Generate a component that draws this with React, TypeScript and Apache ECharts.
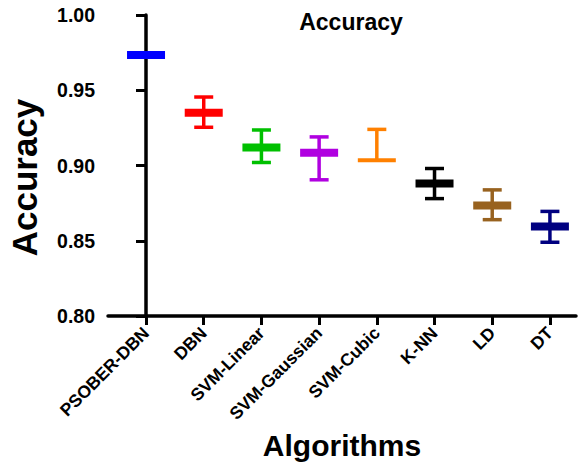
import React, { useEffect, useRef } from "react";
import * as echarts from "echarts";

const categories = ["PSOBER-DBN", "DBN", "SVM-Linear", "SVM-Gaussian", "SVM-Cubic", "K-NN", "LD", "DT"];
const means = [0.9734, 0.935, 0.912, 0.9085, 0.9035, 0.888, 0.8735, 0.8595];
const lows = [0.9734, 0.9254, 0.902, 0.8905, 0.9035, 0.878, 0.864, 0.849];
const highs = [0.9734, 0.9455, 0.9236, 0.919, 0.924, 0.898, 0.8838, 0.8695];
const colors = ["#0000ff", "#ff0000", "#00c000", "#b000e0", "#ff8000", "#000000", "#98621f", "#000080"];
const meanThickness = [8, 8, 8, 8, 4, 8, 8, 8];
const yTicks = { min: 0.8, max: 1.0, interval: 0.05 };

export default function App() {
  const ref = useRef<HTMLDivElement>(null);
  useEffect(() => {
    if (!ref.current) return;
    const chart = echarts.init(ref.current, null, { renderer: "svg" });
    const font = "'Liberation Sans', Arial, sans-serif";
    const idx = categories.map((_, i) => i);
    chart.setOption({
      animation: false,
      backgroundColor: "#ffffff",
      title: {
        text: "Accuracy",
        left: 346,
        textAlign: "center",
        top: 5,
        textStyle: { fontFamily: font, fontWeight: "bold", fontSize: 23, color: "#000" },
      },
      grid: { left: 108, right: 2, top: 15, bottom: 146, containLabel: false, outerBoundsMode: "none" },
      xAxis: {
        type: "value",
        min: -0.659,
        max: 7.452,
        name: "Algorithms",
        nameLocation: "middle",
        nameGap: 98,
        nameTextStyle: { fontFamily: font, fontWeight: "bold", fontSize: 30, color: "#000" },
        splitLine: { show: false },
        axisLine: { show: true, lineStyle: { color: "#000", width: 3.5 } },
        axisTick: { show: true, length: 9, customValues: idx, lineStyle: { color: "#000", width: 3 } },
        axisLabel: {
          customValues: idx,
          rotate: 45,
          margin: 14,
          fontFamily: font,
          fontWeight: "bold",
          fontSize: 17.5,
          color: "#000",
          formatter: (v: number) => categories[Math.round(v)] ?? "",
        },
      },
      yAxis: {
        type: "value",
        min: yTicks.min,
        max: yTicks.max,
        interval: yTicks.interval,
        name: "Accuracy",
        nameLocation: "middle",
        nameGap: 66,
        nameTextStyle: {
          fontFamily: font,
          fontWeight: "bold",
          fontSize: 35,
          color: "#000",
          padding: [0, 24, 0, 0],
        },
        splitLine: { show: false },
        axisLine: { show: true, lineStyle: { color: "#000", width: 3.5 } },
        axisTick: { show: true, length: 10, lineStyle: { color: "#000", width: 3 } },
        axisLabel: {
          margin: 13,
          fontFamily: font,
          fontWeight: "bold",
          fontSize: 19.5,
          color: "#000",
          formatter: (v: number) => v.toFixed(2),
        },
      },
      series: [
        {
          type: "custom",
          data: categories.map((_, i) => [i, means[i], lows[i], highs[i]]),
          renderItem: (params: any, api: any) => {
            const i = params.dataIndex;
            const x = api.value(0);
            const pm = api.coord([x, api.value(1)]);
            const pl = api.coord([x, api.value(2)]);
            const ph = api.coord([x, api.value(3)]);
            const c = colors[i];
            const children: any[] = [];
            const lw = 3.5;
            const capW = 19;
            const barW = 38;
            if (Math.abs(pl[1] - ph[1]) > 0.5) {
              children.push({
                type: "line",
                shape: { x1: pm[0], y1: ph[1], x2: pm[0], y2: pl[1] },
                style: { stroke: c, lineWidth: lw },
              });
              if (Math.abs(ph[1] - pm[1]) > 0.5)
                children.push({
                  type: "line",
                  shape: { x1: pm[0] - capW / 2, y1: ph[1], x2: pm[0] + capW / 2, y2: ph[1] },
                  style: { stroke: c, lineWidth: lw },
                });
              if (Math.abs(pl[1] - pm[1]) > 0.5)
                children.push({
                  type: "line",
                  shape: { x1: pm[0] - capW / 2, y1: pl[1], x2: pm[0] + capW / 2, y2: pl[1] },
                  style: { stroke: c, lineWidth: lw },
                });
            }
            const t = meanThickness[i];
            children.push({
              type: "rect",
              shape: { x: pm[0] - barW / 2, y: pm[1] - t / 2, width: barW, height: t },
              style: { fill: c },
            });
            return { type: "group", children };
          },
        },
      ],
    });
    return () => chart.dispose();
  }, []);
  return <div ref={ref} style={{ width: 578, height: 462, position: "absolute", left: 0, top: 0 }} />;
}
